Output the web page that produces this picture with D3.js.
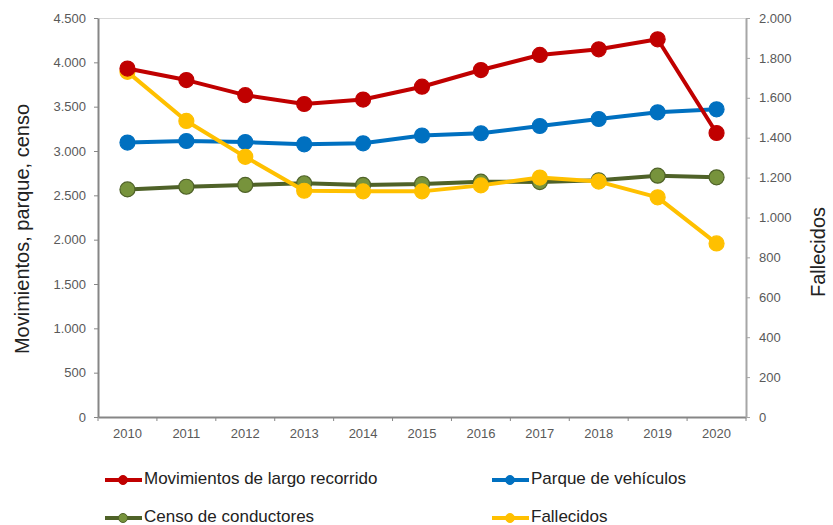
<!DOCTYPE html>
<html lang="es">
<head>
<meta charset="UTF-8">
<title>Movimientos, parque, censo y fallecidos</title>
<script src="https://d3js.org/d3.v7.min.js"></script>
<style>
  body { margin: 0; background: #fff; }
  svg { display: block; font-family: "Liberation Sans", Arial, sans-serif; }
  .tick text { fill: #595959; font-size: 13px; }
</style>
</head>
<body>
<div id="chart"></div>
<script>
// Data
const years = [2010, 2011, 2012, 2013, 2014, 2015, 2016, 2017, 2018, 2019, 2020];
const movimientos = [3930, 3800, 3630, 3530, 3580, 3725, 3913, 4083, 4147, 4260, 3203];
const parque = [3095, 3113, 3101, 3075, 3087, 3175, 3200, 3282, 3361, 3436, 3470];
const censo = [2567, 2597, 2617, 2636, 2617, 2628, 2654, 2650, 2670, 2722, 2703];
const fallecidos = [1730, 1484, 1304, 1134, 1131, 1131, 1161, 1200, 1180, 1101, 870];
const leftTicks = [0, 500, 1000, 1500, 2000, 2500, 3000, 3500, 4000, 4500];
const rightTicks = [0, 200, 400, 600, 800, 1000, 1200, 1400, 1600, 1800, 2000];

const width = 833, height = 525;
const m = { left: 98, right: 746, top: 18, bottom: 417 };

const fmt = d3.formatLocale({ decimal: ",", thousands: ".", grouping: [3], currency: ["", "€"] }).format(",d");

const svg = d3.select("#chart").append("svg")
  .attr("width", width).attr("height", height);

const x = d3.scaleBand().domain(years).range([m.left, m.right]);
const yL = d3.scaleLinear().domain([0, 4500]).range([m.bottom, m.top]);
const yR = d3.scaleLinear().domain([0, 2000]).range([m.bottom, m.top]);

// top border
svg.append("line")
  .attr("x1", m.left).attr("x2", m.right)
  .attr("y1", m.top + 0.5).attr("y2", m.top + 0.5)
  .attr("stroke", "#d9d9d9");

// axes
const gx = svg.append("g").attr("transform", `translate(0,${m.bottom})`)
  .call(d3.axisBottom(x).tickSize(0).tickPadding(12));
gx.select(".domain").attr("stroke", "#868686").attr("stroke-width", 2);
// ticks between categories
svg.append("g").selectAll("line")
  .data(years.concat([null]))
  .join("line")
  .attr("x1", (d, i) => m.left + i * x.step())
  .attr("x2", (d, i) => m.left + i * x.step())
  .attr("y1", m.bottom).attr("y2", m.bottom + 4)
  .attr("stroke", "#868686");

const gl = svg.append("g").attr("transform", `translate(${m.left},0)`)
  .call(d3.axisLeft(yL).tickValues(leftTicks).tickFormat(fmt).tickSize(4).tickPadding(8).tickSizeOuter(0));
gl.select(".domain").attr("stroke", "#868686").attr("stroke-width", 2);
gl.selectAll(".tick line").attr("stroke", "#868686");

const gr = svg.append("g").attr("transform", `translate(${m.right},0)`)
  .call(d3.axisRight(yR).tickValues(rightTicks).tickFormat(fmt).tickSize(4).tickPadding(9).tickSizeOuter(0));
gr.select(".domain").attr("stroke", "#a6a6a6").attr("stroke-width", 2);
gr.selectAll(".tick line").attr("stroke", "#a6a6a6");

// axis titles
svg.append("text")
  .attr("transform", "translate(24,229) rotate(-90)")
  .attr("text-anchor", "middle")
  .attr("dominant-baseline", "middle")
  .attr("font-size", 20).attr("fill", "#222")
  .text("Movimientos, parque, censo");
svg.append("text")
  .attr("transform", "translate(820,252) rotate(-90)")
  .attr("text-anchor", "middle")
  .attr("dominant-baseline", "middle")
  .attr("font-size", 20).attr("fill", "#222")
  .text("Fallecidos");

// series
const series = [
  { name: "Movimientos de largo recorrido", values: movimientos, y: yL, line: "#c00000", fill: "#c00000", stroke: "#c00000" },
  { name: "Parque de vehículos", values: parque, y: yL, line: "#0070c0", fill: "#0070c0", stroke: "#0070c0" },
  { name: "Censo de conductores", values: censo, y: yL, line: "#4f6228", fill: "#77933c", stroke: "#4f6228" },
  { name: "Fallecidos", values: fallecidos, y: yR, line: "#ffc000", fill: "#ffc000", stroke: "#ffc000" }
];
// draw order: censo, parque, fallecidos, movimientos (red on top)
const drawOrder = [2, 1, 3, 0];
const cx = d => x(d) + x.bandwidth() / 2;

drawOrder.forEach(i => {
  const s = series[i];
  const g = svg.append("g");
  g.append("path")
    .datum(s.values)
    .attr("fill", "none")
    .attr("stroke", s.line)
    .attr("stroke-width", 4)
    .attr("stroke-linejoin", "round")
    .attr("d", d3.line().x((d, j) => cx(years[j])).y(d => s.y(d)));
  g.selectAll("circle")
    .data(s.values)
    .join("circle")
    .attr("cx", (d, j) => cx(years[j]))
    .attr("cy", d => s.y(d))
    .attr("r", 7.5)
    .attr("fill", s.fill)
    .attr("stroke", s.stroke)
    .attr("stroke-width", 1.2);
});

// legend
const legendPos = [[105, 480], [492, 480], [105, 518], [492, 518]];
series.forEach((s, i) => {
  const [lx, ly] = legendPos[i];
  const g = svg.append("g").attr("transform", `translate(${lx},${ly})`);
  g.append("line").attr("x1", 0).attr("x2", 37).attr("y1", 0).attr("y2", 0)
    .attr("stroke", s.line).attr("stroke-width", 4);
  g.append("circle").attr("cx", 18).attr("cy", 0).attr("r", 4.5)
    .attr("fill", s.fill).attr("stroke", s.stroke).attr("stroke-width", 1);
  g.append("text").attr("x", 39).attr("y", 0)
    .attr("dominant-baseline", "middle")
    .attr("font-size", 17).attr("fill", "#222")
    .text(s.name);
});
</script>
</body>
</html>
